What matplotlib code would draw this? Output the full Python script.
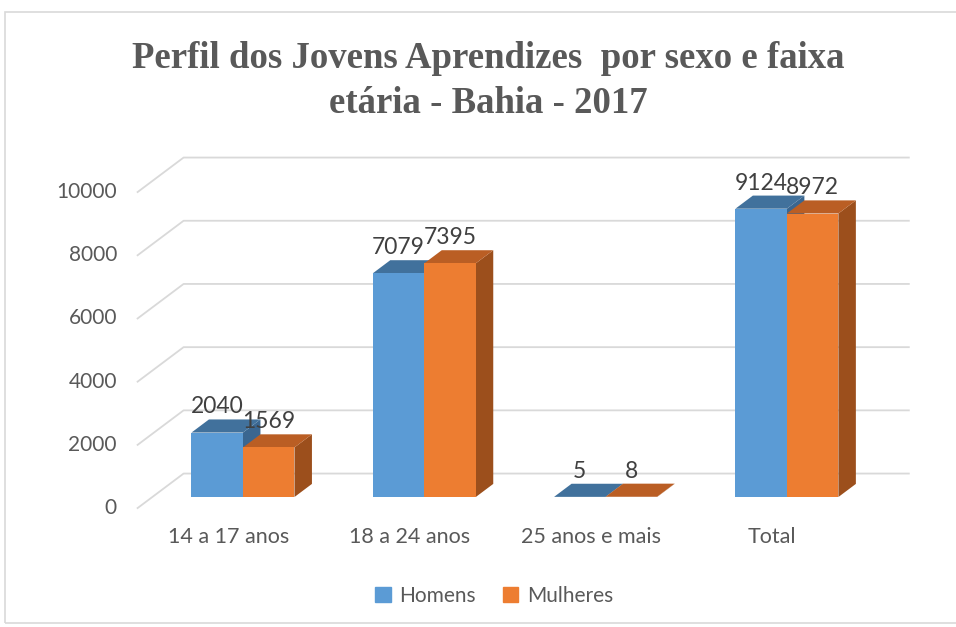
import matplotlib.pyplot as plt
from matplotlib.patches import Polygon, Rectangle, Patch

categorias = ["14 a 17 anos", "18 a 24 anos", "25 anos e mais", "Total"]
homens = [2040, 7079, 5, 9124]
mulheres = [1569, 7395, 8, 8972]
yticks = [0, 2000, 4000, 6000, 8000, 10000]

cinza = "#595959"
azul = ("#5B9BD5", "#41719C", "#3A6690")      # frente, topo, lado
laranja = ("#ED7D31", "#BA5E24", "#9C4F1C")

# profundidade do "3D" (em unidades de categoria / valor)
DX, DY = 0.2537, 1092
d_frente = 0.32      # posicao das barras dentro da parede
d_barra = 0.38       # profundidade das barras
w = 0.284

fig = plt.figure(figsize=(9.56, 6.27), dpi=100)
fig.patches.append(Rectangle((5 / 956, 1 - 623 / 627), 1.0, 611 / 627,
                             transform=fig.transFigure, fill=False,
                             edgecolor="#D9D9D9", linewidth=1.2))
ax = fig.add_axes([0.0645, 0.1317, 0.9293, 0.6552])
ax.set_xlim(-1.0, 3.9)
ax.set_ylim(-1500, 11500)
ax.axis("off")

# grade: parede esquerda + parede do fundo
x_esq, x_dir = -0.5, 3.5
for v in yticks:
    x0, y0 = x_esq - d_frente * DX, v - d_frente * DY
    x1, y1 = x_esq + (1 - d_frente) * DX, v + (1 - d_frente) * DY
    x2 = x_dir + (1 - d_frente) * DX
    ax.plot([x0, x1, x2], [y0, y1, y1], color="#D9D9D9", lw=1.3, zorder=1)
    ax.text(-0.695, y0, str(v), ha="right", va="center", fontsize=15,
            color=cinza, family="Lato")

bdx, bdy = d_barra * DX, d_barra * DY


def barra(x, v, cores):
    frente, topo, lado = cores
    ax.add_patch(Polygon([(x + w, 0), (x + w + bdx, bdy), (x + w + bdx, v + bdy), (x + w, v)],
                         closed=True, facecolor=lado, edgecolor="none", zorder=2))
    ax.add_patch(Polygon([(x, v), (x + bdx, v + bdy), (x + w + bdx, v + bdy), (x + w, v)],
                         closed=True, facecolor=topo, edgecolor="none", zorder=2))
    ax.add_patch(Rectangle((x, 0), w, v, facecolor=frente, edgecolor="none", zorder=2))
    ax.text(x + w / 2, v + bdy + 190, str(v), ha="center", va="baseline",
            fontsize=16.5, color="#404040", family="Lato", zorder=3)


for i in range(len(categorias)):
    barra(i - w, homens[i], azul)
    barra(i, mulheres[i], laranja)
    ax.text(i - d_frente * DX, -1266, categorias[i], ha="center", va="center",
            fontsize=15.5, color=cinza, family="Lato")

fig.text(488 / 956, 1 - 81 / 627, "Perfil dos Jovens Aprendizes  por sexo e faixa\netária - Bahia - 2017",
         ha="center", va="center", fontsize=26.5, fontweight="bold", color=cinza,
         family="Liberation Serif", linespacing=1.35)

fig.legend(handles=[Patch(color=azul[0], label="Homens"), Patch(color=laranja[0], label="Mulheres")],
           loc="center", bbox_to_anchor=(494 / 956, 1 - 596 / 627), ncol=2, frameon=False,
           handlelength=0.75, handleheight=0.75, handletextpad=0.4, columnspacing=1.3,
           prop={"family": "Lato", "size": 15}, labelcolor=cinza)

fig.savefig("out.png", dpi=100)
